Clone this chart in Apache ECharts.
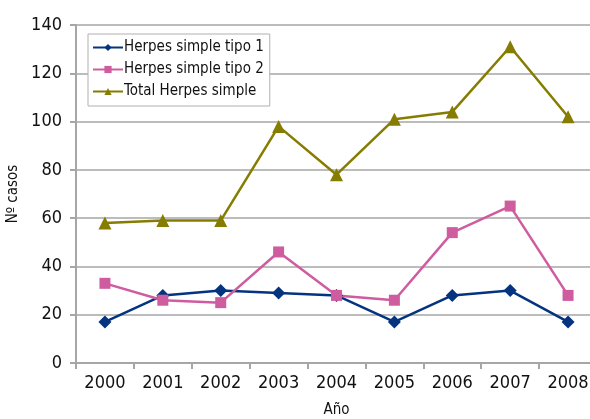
<!DOCTYPE html>
<html>
<head>
<meta charset="utf-8">
<script src="https://cdn.jsdelivr.net/npm/echarts@6/dist/echarts.min.js"></script>
<style>
  html, body { margin: 0; padding: 0; background: #fff; }
  #chart { width: 590px; height: 419px; }
</style>
</head>
<body>
<div id="chart"></div>
<script>
const years = ['2000', '2001', '2002', '2003', '2004', '2005', '2006', '2007', '2008']
const tipo1 = [17, 28, 30, 29, 28, 17, 28, 30, 17]
const tipo2 = [33, 26, 25, 46, 28, 26, 54, 65, 28]
const total = [58, 59, 59, 98, 78, 101, 104, 131, 102]

// condensed face to get near the narrow original lettering
const font = '"DejaVu Sans Condensed", "DejaVu Sans", sans-serif'
const narrow = 'condensed'
const gray = '#a6a6a6'

let chart = echarts.init(document.getElementById('chart'))
let option = {
  backgroundColor: '#fff',
  animation: false,
  textStyle: { fontFamily: font, fontWeight: narrow },
  grid: { left: 76, right: -7, top: 25, bottom: 56, outerBoundsMode: 'none' },
  legend: {
    orient: 'vertical',
    left: 88,
    top: 34,
    backgroundColor: '#fff',
    borderColor: '#b0b0b0',
    borderWidth: 1,
    padding: [6, 6, 7, 4],
    itemGap: 7,
    itemWidth: 30,
    itemHeight: 9,
    textStyle: { fontSize: 15, color: '#111', fontFamily: font, fontWeight: narrow, padding: [0, 0, 0, -4] },
    data: ['Herpes simple tipo 1', 'Herpes simple tipo 2', 'Total Herpes simple']
  },
  xAxis: {
    type: 'category',
    data: years,
    name: 'Año',
    nameLocation: 'middle',
    nameGap: 40,
    nameTextStyle: { fontSize: 15, color: '#111', fontFamily: font, fontWeight: narrow },
    axisLine: { lineStyle: { color: gray, width: 2 } },
    axisTick: { show: true, length: 6, lineStyle: { color: gray, width: 2 } },
    axisLabel: { fontSize: 18, color: '#111', margin: 11, fontFamily: font, fontWeight: narrow }
  },
  yAxis: {
    type: 'value',
    min: 0,
    max: 140,
    interval: 20,
    name: 'Nº casos',
    nameLocation: 'middle',
    nameGap: 50,
    nameTextStyle: { fontSize: 15, color: '#111', fontFamily: font, fontWeight: narrow },
    axisLine: { show: true, lineStyle: { color: gray, width: 2 } },
    axisTick: { show: true, length: 6, lineStyle: { color: gray, width: 2 } },
    axisLabel: { fontSize: 18, color: '#111', margin: 14, fontFamily: font, fontWeight: narrow },
    splitLine: { lineStyle: { color: gray, width: 1.5 } }
  },
  series: [
    {
      name: 'Herpes simple tipo 1',
      type: 'line',
      data: tipo1,
      symbol: 'diamond',
      symbolSize: 13,
      color: '#043380',
      lineStyle: { width: 2.5 }
    },
    {
      name: 'Herpes simple tipo 2',
      type: 'line',
      data: tipo2,
      symbol: 'rect',
      symbolSize: 11,
      color: '#cf5c9f',
      lineStyle: { width: 2.5 }
    },
    {
      name: 'Total Herpes simple',
      type: 'line',
      data: total,
      symbol: 'triangle',
      symbolSize: 13,
      color: '#857c00',
      lineStyle: { width: 2.5 }
    }
  ]
}
chart.setOption(option)
</script>
</body>
</html>
